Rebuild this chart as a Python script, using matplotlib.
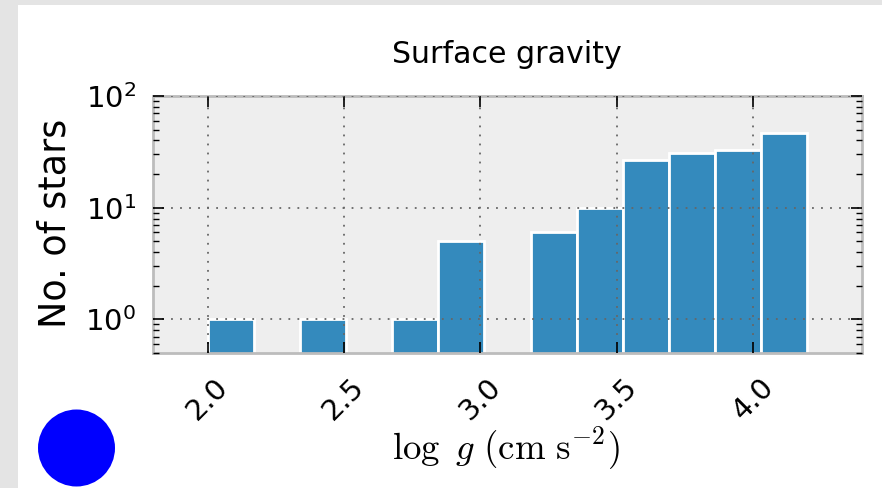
import numpy as np
import matplotlib
matplotlib.use("Agg")
import matplotlib.pyplot as plt
from matplotlib.patches import Rectangle, Ellipse

# histogram of log g
bin_edges = np.linspace(2.0, 4.2, 14)
counts = [1, 0, 1, 0, 1, 5, 0, 6, 10, 27, 31, 33, 47]
xticks = [2.0, 2.5, 3.0, 3.5, 4.0]
xtick_labels = ["2.0", "2.5", "3.0", "3.5", "4.0"]

W, H = 882, 488
fig = plt.figure(figsize=(8.82, 4.88), dpi=100, facecolor="#e4e4e4")

# white slide area and the blue dot in the corner
fig.add_artist(Rectangle((18 / W, 0), 864 / W, 483 / H,
                         transform=fig.transFigure, facecolor="white",
                         edgecolor="none", zorder=0))
fig.add_artist(Ellipse((76.5 / W, 1 - 448 / H), 77 / W, 77 / H,
                       transform=fig.transFigure, facecolor="#0000ff",
                       edgecolor="none", zorder=1))

ax = fig.add_axes([153 / W, 1 - 353 / H, 709 / W, 257 / H])
ax.set_facecolor("#eeeeee")
ax.hist(bin_edges[:-1], bins=bin_edges, weights=counts, log=True,
        color="#348ABD", edgecolor="white", linewidth=2.0)

ax.set_yscale("log")
ax.set_xlim(1.8, 4.4)
ax.set_ylim(0.5, 100)
ax.set_xticks(xticks)
ax.set_xticklabels(xtick_labels, rotation=45)

ax.set_axisbelow(False)
ax.grid(True, which="major", linestyle=(0, (1, 4)), color="#666666",
        linewidth=1.3)

for s in ax.spines.values():
    s.set_color("#bcbcbc")
    s.set_linewidth(2)

ax.tick_params(which="both", direction="in", top=True, right=True,
               color="black", labelsize=21)
ax.tick_params(which="major", length=8, width=1.2)
ax.tick_params(which="minor", length=4, width=1.0)
ax.tick_params(axis="x", pad=14)
ax.tick_params(axis="y", pad=12)
ax.tick_params(axis="x", which="minor", top=False, bottom=False)

fig.text(507 / W, 1 - 63 / H, "Surface gravity", fontsize=21.6,
         ha="center", va="baseline")
fig.text(55 / W, 1 - 223 / H, "No. of stars", rotation=90,
         ha="center", va="center", fontsize=26.3)
fig.text(506 / W, 1 - 460 / H, r"$\log\ g\ (\mathrm{cm\ s^{-2}})$",
         fontsize=26.5, math_fontfamily="cm", ha="center", va="baseline")

fig.savefig("out.png", dpi=100, facecolor=fig.get_facecolor())
